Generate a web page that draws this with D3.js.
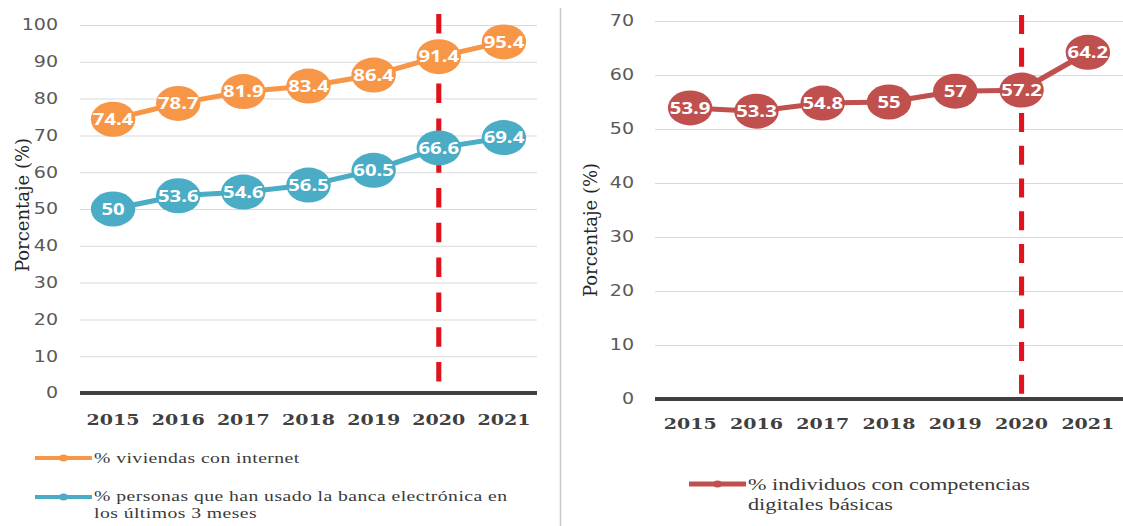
<!DOCTYPE html>
<html lang="es">
<head>
<meta charset="utf-8" />
<title>Porcentaje</title>
<script src="https://d3js.org/d3.v7.min.js"></script>
<style>
  body { margin: 0; background: #fff; }
  .tick-label { font-family: "DejaVu Sans", sans-serif; font-size: 15px; fill: #595959; }
  .year { font-family: "DejaVu Serif", serif; font-weight: bold; font-size: 15px; fill: #404040; }
  .value { font-family: "Open Sans", sans-serif; font-weight: bold; font-size: 16px; fill: #fff; }
  .legend { font-family: "Liberation Serif", "Times New Roman", serif; fill: #3a3a3a; }
  .ytitle { font-family: "DejaVu Serif", serif; font-size: 18px; fill: #262626; }
</style>
</head>
<body>
<svg width="1123" height="526"></svg>
<script>
const years = ["2015", "2016", "2017", "2018", "2019", "2020", "2021"];
const viviendas = [74.4, 78.7, 81.9, 83.4, 86.4, 91.4, 95.4];
const banca = [50, 53.6, 54.6, 56.5, 60.5, 66.6, 69.4];
const competencias = [53.9, 53.3, 54.8, 55, 57, 57.2, 64.2];
const leftTicks = [0, 10, 20, 30, 40, 50, 60, 70, 80, 90, 100];
const rightTicks = [0, 10, 20, 30, 40, 50, 60, 70];
const markYear = "2020";

// the source picture is stretched sideways, so draw in a widened group
const SX = 1.27;

const svg = d3.select("svg");
const root = svg.append("g").attr("transform", `scale(${SX},1)`);

function panel(p) {
  const x = d3.scaleBand().domain(years).range([p.x0 / SX, p.x1 / SX]);
  const bw = x.bandwidth();
  const y = d3.scaleLinear().domain([0, p.yMax]).range([p.y0, p.yTop]);
  const g = root.append("g");

  // gridlines and tick labels
  g.append("g")
    .attr("transform", `translate(${p.gridStart / SX},0)`)
    .call(d3.axisLeft(y).tickValues(p.ticks)
      .tickSize(-(p.gridEnd - p.gridStart) / SX)
      .tickPadding(p.pad / SX))
    .call((a) => a.select(".domain").remove())
    .call((a) => a.selectAll("line")
      .attr("stroke", "#d9d9d9").attr("stroke-width", 1)
      .attr("opacity", (d) => (d === 0 ? 0 : 1)))
    .call((a) => a.selectAll("text").attr("class", "tick-label"));

  // zero axis
  g.append("line")
    .attr("x1", p.gridStart / SX).attr("x2", p.gridEnd / SX)
    .attr("y1", y(0)).attr("y2", y(0))
    .attr("stroke", "#404040").attr("stroke-width", 4);

  // year labels
  g.append("g")
    .attr("transform", `translate(0,${p.yearY})`)
    .call(d3.axisBottom(x).tickSize(0).tickPadding(0))
    .call((a) => a.select(".domain").remove())
    .call((a) => a.selectAll("text").attr("class", "year").attr("y", 0).attr("dy", 0));

  // red dashed marker line
  g.append("line")
    .attr("x1", x(markYear) + bw / 2).attr("x2", x(markYear) + bw / 2)
    .attr("y1", p.dashTop).attr("y2", p.dashBottom)
    .attr("stroke", "#e0121b").attr("stroke-width", 4)
    .attr("stroke-dasharray", p.dash);

  const line = d3.line()
    .x((d, i) => x(years[i]) + bw / 2)
    .y((d) => y(d));

  p.series.forEach((s) => {
    g.append("path")
      .datum(s.values)
      .attr("d", line)
      .attr("fill", "none")
      .attr("stroke", s.color)
      .attr("stroke-width", 5);

    const pts = g.append("g").selectAll("g")
      .data(s.values)
      .enter()
      .append("g")
      .attr("transform", (d, i) => `translate(${x(years[i]) + bw / 2},${y(d)})`);
    pts.append("circle").attr("r", 17.5).attr("fill", s.color);
    pts.append("text")
      .attr("class", "value")
      .attr("text-anchor", "middle")
      .attr("dy", "0.36em")
      .text((d) => d);
  });

  // legend
  p.series.forEach((s) => {
    const lg = g.append("g");
    lg.append("line")
      .attr("x1", s.lx0 / SX).attr("x2", s.lx1 / SX)
      .attr("y1", s.ly).attr("y2", s.ly)
      .attr("stroke", s.color).attr("stroke-width", s.lw);
    lg.append("circle")
      .attr("cx", (s.lx0 + s.lx1) / 2 / SX).attr("cy", s.ly)
      .attr("r", 3.5).attr("fill", s.color);
    const t = lg.append("text")
      .attr("class", "legend")
      .attr("font-size", s.fs + "px")
      .attr("letter-spacing", s.ls)
      .attr("x", (s.lx1 + 2) / SX)
      .attr("y", s.ty);
    s.label.forEach((txt, i) => {
      t.append("tspan")
        .attr("x", (s.lx1 + 2) / SX)
        .attr("dy", i === 0 ? 0 : s.lh)
        .text(txt);
    });
  });

  svg.append("text")
    .attr("class", "ytitle")
    .attr("text-anchor", "middle")
    .attr("transform", `translate(${p.titleX},${p.titleY}) rotate(-90)`)
    .attr("dy", "0.35em")
    .text("Porcentaje (%)");
}

panel({
  x0: 80.5, x1: 536.5, gridStart: 80, gridEnd: 537, pad: 22,
  y0: 393, yTop: 25, yMax: 100, ticks: leftTicks,
  yearY: 425, dashTop: 14, dashBottom: 382, dash: "19.5 15.3",
  titleX: 23, titleY: 205,
  series: [
    { values: viviendas, color: "#f79646", lx0: 35, lx1: 92, ly: 458, lw: 4,
      ty: 463, fs: 15.5, ls: 0.35, lh: 17.5, label: ["% viviendas con internet"] },
    { values: banca, color: "#4bacc6", lx0: 35, lx1: 92, ly: 497, lw: 4,
      ty: 501, fs: 15.5, ls: 0.35, lh: 17.5,
      label: ["% personas que han usado la banca electrónica en", "los últimos 3 meses"] }
  ]
});

panel({
  x0: 657, x1: 1121, gridStart: 655, gridEnd: 1123, pad: 21,
  y0: 399, yTop: 21, yMax: 70, ticks: rightTicks,
  yearY: 429, dashTop: 15, dashBottom: 395, dash: "19 13.7",
  titleX: 591, titleY: 230,
  series: [
    { values: competencias, color: "#c0504d", lx0: 689, lx1: 746, ly: 484, lw: 5,
      ty: 490, fs: 17.5, ls: 0, lh: 20,
      label: ["% individuos con competencias", "digitales básicas"] }
  ]
});

// panel separator
svg.append("line")
  .attr("x1", 560.5).attr("x2", 560.5)
  .attr("y1", 8).attr("y2", 526)
  .attr("stroke", "#c8c8c8").attr("stroke-width", 1.5);
</script>
</body>
</html>
